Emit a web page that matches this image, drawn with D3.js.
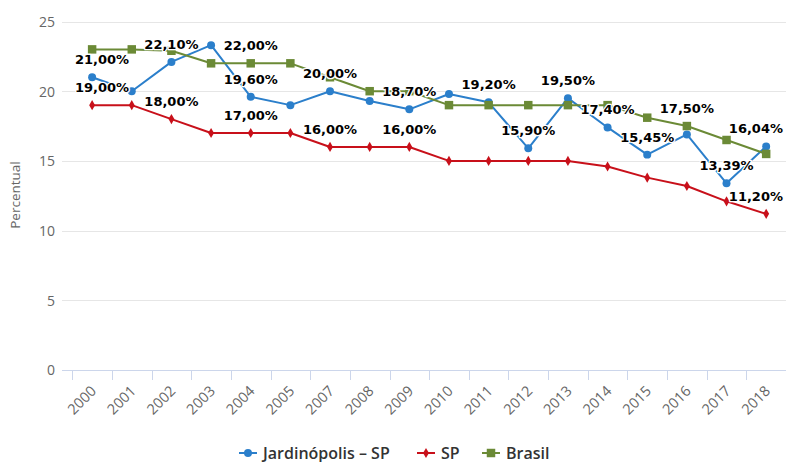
<!DOCTYPE html>
<html><head><meta charset="utf-8">
<script src="https://cdn.jsdelivr.net/npm/d3@7"></script>
<style>
html,body{margin:0;padding:0;background:#fff;}
svg{display:block;}
</style></head>
<body>
<svg id="c" width="789" height="462"></svg>
<script>
const years = ["2000","2001","2002","2003","2004","2005","2007","2008","2009","2010","2011","2012","2013","2014","2015","2016","2017","2018"];
const jardinopolis = [21.0, 20.0, 22.1, 23.3, 19.6, 19.0, 20.0, 19.3, 18.7, 19.8, 19.2, 15.9, 19.5, 17.4, 15.45, 16.9, 13.39, 16.04];
const sp = [19, 19, 18, 17, 17, 17, 16, 16, 16, 15, 15, 15, 15, 14.6, 13.8, 13.2, 12.1, 11.2];
const brasil = [23, 23, 22.9, 22, 22, 22, 21, 20, 20, 19, 19, 19, 19, 19, 18.1, 17.5, 16.5, 15.5];
const yTicks = [0, 5, 10, 15, 20, 25];
const seriesNames = ["Jardinópolis – SP", "SP", "Brasil"];
// data labels visible in the reference (per series, by year)
const labelsJ = ["2000","2002","2004","2007","2009","2011","2012","2013","2014","2015","2017","2018"];
const labelsSP = ["2000","2002","2004","2007","2009","2018"];
const labelsBR = ["2004","2016"];

const series = [
  {name: seriesNames[0], values: jardinopolis, color: "#2b7fcb", symbol: "circle", labels: labelsJ},
  {name: seriesNames[1], values: sp, color: "#c8101a", symbol: "diamond", labels: labelsSP},
  {name: seriesNames[2], values: brasil, color: "#6b8a36", symbol: "square", labels: labelsBR}
];

const svg = d3.select("#c");
const plotLeft = 62, plotRight = 786, plotTop = 21.5, plotBottom = 370;
const x = d3.scaleBand().domain(years).range([72.3, 786]).padding(0);
const y = d3.scaleLinear().domain([0, 25]).range([plotBottom, plotTop]);
const cx = d => x(d) + x.bandwidth() / 2;

// gridlines
svg.append("g").selectAll("line").data(yTicks.filter(t => t > 0)).join("line")
  .attr("x1", plotLeft).attr("x2", plotRight)
  .attr("y1", d => Math.round(y(d)) + 0.5).attr("y2", d => Math.round(y(d)) + 0.5)
  .attr("stroke", "#e6e6e6").attr("stroke-width", 1);

// y axis labels
const yAxis = d3.axisLeft(y).tickValues(yTicks).tickSize(0).tickPadding(0);
const gy = svg.append("g").attr("transform", `translate(${55},0)`).call(yAxis);
gy.select(".domain").remove();
gy.selectAll("text").attr("font-family", "Open Sans, sans-serif").attr("font-size", 14)
  .attr("fill", "#666").attr("dy", "0.35em");

// x axis
const gx = svg.append("g").attr("transform", `translate(0,${plotBottom})`);
gx.append("line").attr("x1", plotLeft).attr("x2", plotRight).attr("y1", 0.5).attr("y2", 0.5)
  .attr("stroke", "#ccd6eb");
gx.selectAll("line.tick").data(years).join("line").attr("class", "tick")
  .attr("x1", d => Math.round(x(d)) + 0.5).attr("x2", d => Math.round(x(d)) + 0.5)
  .attr("y1", 0).attr("y2", 10).attr("stroke", "#ccd6eb");
gx.selectAll("text").data(years).join("text")
  .attr("transform", d => `translate(${cx(d) + 5},${22}) rotate(-45)`)
  .attr("text-anchor", "end")
  .attr("font-family", "Open Sans, sans-serif").attr("font-size", 14.5).attr("fill", "#666")
  .text(d => d);

// y title
svg.append("text").attr("transform", `translate(20,195) rotate(-90)`)
  .attr("text-anchor", "middle").attr("font-family", "Open Sans, sans-serif")
  .attr("font-size", 13.5).attr("fill", "#666").text("Percentual");

const line = d3.line().x((d, i) => cx(years[i])).y(d => y(d));
const symbolFor = s => s === "circle" ? d3.symbol(d3.symbolCircle, 50)
  : s === "diamond" ? d3.symbol(d3.symbolDiamond, 30)
  : d3.symbol(d3.symbolSquare, 72);

series.forEach(s => {
  const g = svg.append("g");
  g.append("path").attr("d", line(s.values)).attr("fill", "none")
    .attr("stroke", s.color).attr("stroke-width", 2).attr("stroke-linejoin", "round");
  g.selectAll("path.m").data(s.values).join("path").attr("class", "m")
    .attr("transform", (d, i) => `translate(${cx(years[i])},${y(d)})`)
    .attr("d", symbolFor(s.symbol)()).attr("fill", s.color);
});

// data labels
const fmt = v => v.toFixed(2).replace(".", ",") + "%";
const lg = svg.append("g");
series.forEach(s => {
  s.labels.forEach(yr => {
    const i = years.indexOf(yr);
    const v = s.values[i];
    const t = lg.append("text")
      .attr("font-family", "DejaVu Sans, Verdana, sans-serif").attr("font-weight", "bold")
      .attr("font-size", 13).attr("fill", "#000")
      .attr("stroke", "#fff").attr("stroke-width", 2.5).attr("stroke-linejoin", "round")
      .attr("paint-order", "stroke")
      .attr("text-anchor", "middle")
      .attr("x", cx(yr)).attr("y", y(v) - 13).text(fmt(v));
    const w = t.node().getComputedTextLength();
    let xc = cx(yr);
    if (xc - w / 2 < 75) xc = 75 + w / 2;
    if (xc + w / 2 > 783) xc = 783 - w / 2;
    t.attr("x", xc);
  });
});

// legend
const leg = svg.append("g").attr("transform", "translate(0,453)");
const legX = [248, 426, 491];
series.forEach((s, k) => {
  const gg = leg.append("g").attr("transform", `translate(${legX[k]},0)`);
  gg.append("line").attr("x1", -9).attr("x2", 9).attr("y1", 0).attr("y2", 0)
    .attr("stroke", s.color).attr("stroke-width", 2);
  gg.append("path").attr("d", symbolFor(s.symbol)()).attr("fill", s.color);
  gg.append("text").attr("x", 15).attr("y", 5.5)
    .attr("font-family", "Open Sans, sans-serif").attr("font-weight", 600)
    .attr("font-size", 16).attr("fill", "#333").text(s.name);
});
</script>
</body></html>
